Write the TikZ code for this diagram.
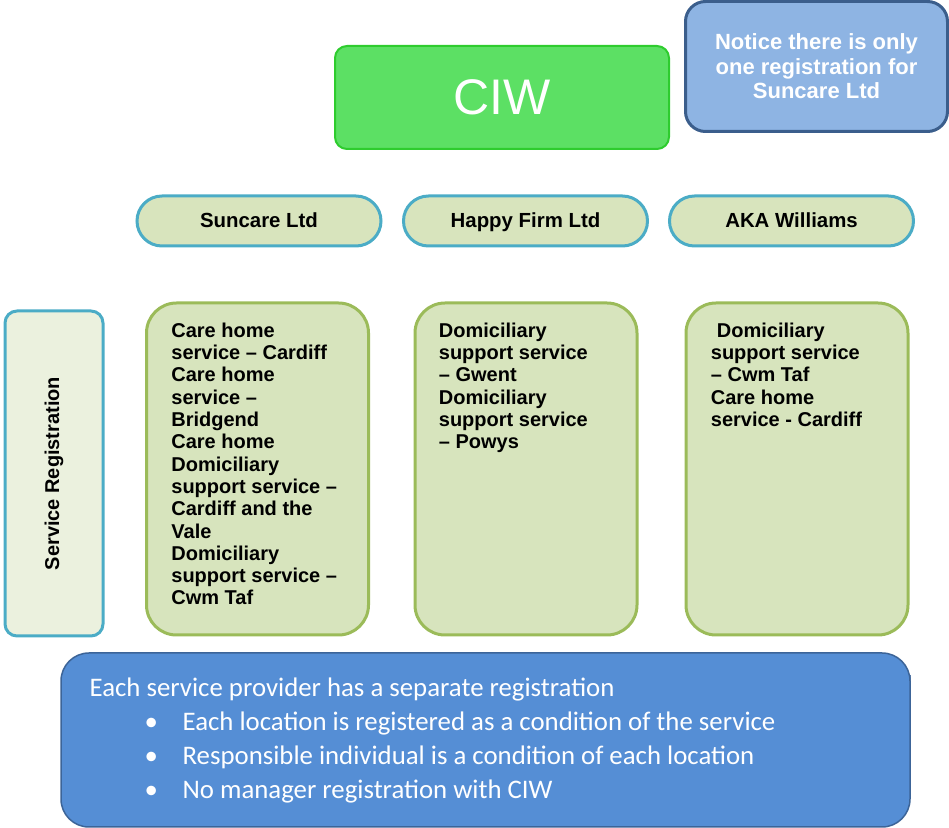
\documentclass[tikz,border=0pt]{standalone}
\usepackage{fontspec}
\setmainfont{Liberation Sans}
\newfontfamily\calibri{Carlito}
\usetikzlibrary{positioning}
\definecolor{ciwfill}{HTML}{5CE064}
\definecolor{ciwline}{HTML}{2ECC2E}
\definecolor{notefill}{HTML}{8EB4E3}
\definecolor{noteline}{HTML}{3B5E8C}
\definecolor{capfill}{HTML}{D8E4BD}
\definecolor{capline}{HTML}{4BACC6}
\definecolor{srfill}{HTML}{EBF1DE}
\definecolor{regfill}{HTML}{D7E4BD}
\definecolor{regline}{HTML}{9BBB59}
\definecolor{infofill}{HTML}{558ED5}
\definecolor{infoline}{HTML}{3C6498}

\begin{document}
\begin{tikzpicture}[x=0.5pt,y=-0.5pt,
  box/.style={draw,line width=1.5pt,inner sep=0pt},
  firm/.style={box,draw=capline,fill=capfill,rounded corners=12.5pt,minimum width=122pt,minimum height=25pt,text height=8.5pt,text depth=1.5pt,font=\fontsize{10.2}{12}\selectfont\bfseries},
  reg/.style={box,draw=regline,fill=regfill,rounded corners=15pt,minimum width=111pt,minimum height=166pt},
  list/.style={inner sep=0pt,align=left,font=\fontsize{10}{11.15}\selectfont\bfseries}]
\useasboundingbox (0,0) rectangle (949,828);
\node[box,line width=1pt,draw=ciwline,fill=ciwfill,rounded corners=6pt,minimum width=167pt,minimum height=51.5pt,text=white,font=\fontsize{25}{30}\selectfont] (CIW) at (502,97.5) {CIW};
\node[box,draw=noteline,fill=notefill,rounded corners=10pt,minimum width=131pt,minimum height=65pt,text=white,align=center,font=\fontsize{11}{12.2}\selectfont\bfseries] (N) at (816.5,66.5) {Notice there is only\\one registration for\\Suncare Ltd};
\node[firm] (S) at (259,221) {Suncare Ltd};
\node[firm] (H) at (525.5,221) {Happy Firm Ltd};
\node[firm] (K) at (791.5,221) {AKA Williams};
\node[box,draw=capline,fill=srfill,rounded corners=6pt,minimum width=49pt,minimum height=162.5pt] (R) at (54,473.5) {};
\node[rotate=90,font=\fontsize{10}{12}\selectfont\bfseries] (RT) at (R.center) {Service Registration};
\node[reg] (S1) at (257.5,469) {};
\node[reg] (S2) at (526,469) {};
\node[reg] (S3) at (797,469) {};
\node[list,below right=10.5pt and 13pt of S1.north west] (T1) {Care home\\service -- Cardiff\\Care home\\service --\\Bridgend\\Care home\\Domiciliary\\support service --\\Cardiff and the\\Vale\\Domiciliary\\support service --\\Cwm Taf};
\node[list,below right=10.5pt and 12.5pt of S2.north west] (T2) {Domiciliary\\support service\\-- Gwent\\Domiciliary\\support service\\-- Powys};
\node[list,below right=10.5pt and 13pt of S3.north west] (T3) {\hspace*{3pt}Domiciliary\\support service\\-- Cwm Taf\\Care home\\service - Cardiff};
\fill[infoline!80] (904,675) rectangle (911,786);
\node[box,line width=0.75pt,draw=infoline,fill=infofill,rounded corners=14pt,minimum width=424.5pt,minimum height=87pt] (I) at (485.5,740) {};
\node[inner sep=0pt,align=left,text=white,font=\calibri\fontsize{13.4}{17}\selectfont,below right=12.5pt and 14.5pt of I.north west] (IT) {Each service provider has a separate registration\\
\hspace*{27.5pt}\makebox[19pt][l]{•}Each location is registered as a condition of the service\\
\hspace*{27.5pt}\makebox[19pt][l]{•}Responsible individual is a condition of each location\\
\hspace*{27.5pt}\makebox[19pt][l]{•}No manager registration with CIW};
\end{tikzpicture}
\end{document}
